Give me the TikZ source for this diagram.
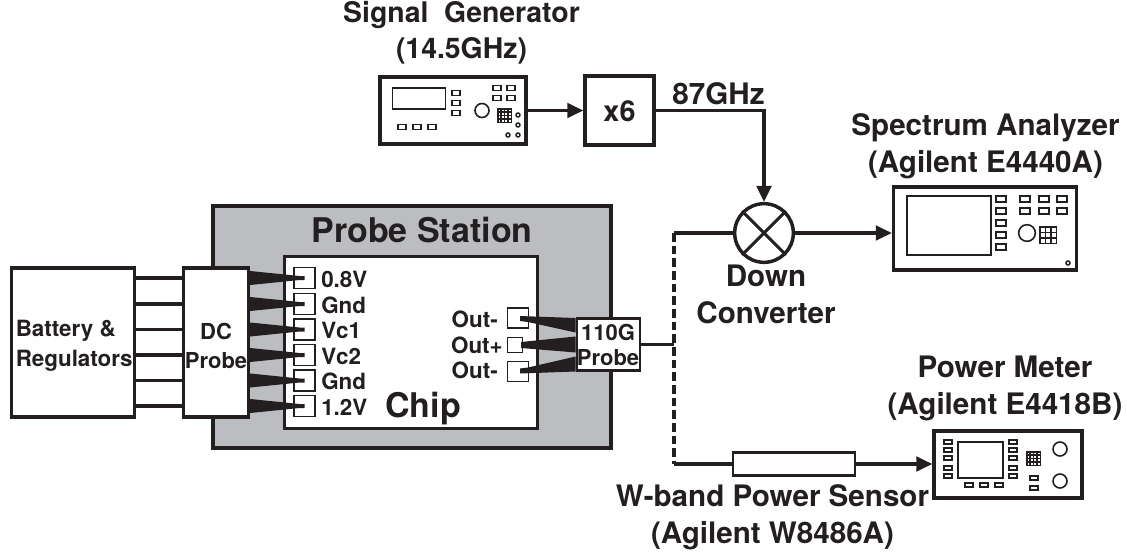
\documentclass[tikz,border=0pt]{standalone}
\usepackage{fontspec}
\setmainfont{TeX Gyre Heros}
\usetikzlibrary{arrows.meta,calc}
\newcommand{\fs}[1]{\fontsize{#1}{#1}\selectfont\bfseries}
\definecolor{ink}{HTML}{231F20}
\definecolor{stationgray}{HTML}{BBBDC0}
\tikzset{
  x=0.75pt,y=-0.75pt,
  box/.style={draw=ink,line width=2.6pt,fill=white,inner sep=0pt,align=center,text=ink},
  thinbox/.style={draw=ink,line width=1.1pt,fill=white,inner sep=0pt},
  wire/.style={draw=ink,line width=2.3pt},
  dashwire/.style={draw=ink,line width=2.3pt,dash pattern=on 6.5pt off 3pt},
  arrowwire/.style={wire,-{Triangle[length=12pt,width=11pt]}},
  lbl/.style={text=ink,inner sep=0pt,align=center},
  padlbl/.style={lbl,anchor=west,font=\fs{16.8}},
  outlbl/.style={lbl,anchor=east,font=\fs{16.8}},
  btn/.style={draw=ink,line width=1.3pt,fill=white,minimum width=6.2pt,minimum height=3.6pt,inner sep=0pt},
  knob/.style={draw=ink,line width=1.2pt,fill=white,circle,inner sep=0pt},
  dot/.style={draw=ink,line width=1.1pt,fill=white,circle,minimum size=3pt,inner sep=0pt},
  screen/.style={draw=ink,line width=1.3pt,fill=white,inner sep=0pt},
}
\newcommand{\keypad}[4]{% x0,y0,size,cells
  \fill[ink] (#1,#2) rectangle ++(#3,#3);
  \foreach \i in {0,...,#4}{\foreach \j in {0,...,#4}{
    \fill[white] ({#1+1.5+\i*(#3-1.5)/(#4+1)},{#2+1.5+\j*(#3-1.5)/(#4+1)}) rectangle ++({(#3-1.5)/(#4+1)-1.5},{(#3-1.5)/(#4+1)-1.5});}}
}
\begin{document}
\begin{tikzpicture}
\useasboundingbox (0,0) rectangle (1127,557);
% station
\node[box,fill=stationgray,minimum width=398*0.75pt,minimum height=242*0.75pt] (station) at (412,327) {};
\node[box,minimum width=253*0.75pt,minimum height=172*0.75pt] (chip) at (411,342.5) {};
\node[lbl,font=\fs{25.5}] (stationlbl) at (422,230) {Probe Station};
\node[lbl,font=\fs{25.5}] (chiplbl) at (423,409) {Chip};
% left pads
\node[thinbox,minimum width=16pt,minimum height=15.5pt] (p1) at (304.5,278) {};
\node[thinbox,minimum width=16pt,minimum height=15.5pt] (p2) at (304.5,304) {};
\node[thinbox,minimum width=16pt,minimum height=15.5pt] (p3) at (304.5,329.5) {};
\node[thinbox,minimum width=16pt,minimum height=15.5pt] (p4) at (304.5,355) {};
\node[thinbox,minimum width=16pt,minimum height=15.5pt] (p5) at (304.5,380.5) {};
\node[thinbox,minimum width=16pt,minimum height=15.5pt] (p6) at (304.5,406) {};
\node[padlbl] (l1) at (321,279) {0.8V};
\node[padlbl] (l2) at (321,305) {Gnd};
\node[padlbl] (l3) at (321,330) {Vc1};
\node[padlbl] (l4) at (321,356) {Vc2};
\node[padlbl] (l5) at (321,381) {Gnd};
\node[padlbl] (l6) at (321,407) {1.2V};
% right pads
\node[thinbox,minimum width=15.5pt,minimum height=15pt] (q1) at (518,318) {};
\node[thinbox,minimum width=11pt,minimum height=11pt] (q2) at (515,345) {};
\node[thinbox,minimum width=15.5pt,minimum height=15pt] (q3) at (518,371.5) {};
\node[outlbl] (o1) at (498,319) {Out-};
\node[outlbl] (o2) at (503,345) {Out+};
\node[outlbl] (o3) at (498,370) {Out-};
% battery & dc probe
\node[box,minimum width=123*0.75pt,minimum height=149*0.75pt] (bat) at (73,342.5) {};
\node[box,minimum width=65*0.75pt,minimum height=149*0.75pt] (dc) at (216,342.5) {};
\foreach \n in {1,...,6}{
  \draw[wire] (bat.east |- p\n) -- (dc.west |- p\n);
  \fill[ink] ($(dc.east |- p\n)+(0,-7)$) -- ($(p\n.center)+(-5,-2)$) -- ($(p\n.center)+(0,-2)$) -- ($(p\n.center)+(0,2)$) -- ($(p\n.center)+(-5,2)$) -- ($(dc.east |- p\n)+(0,7)$) -- cycle;
}
\node[lbl,font=\fs{16.8},align=left,anchor=west] (batl) at (15.5,346) {Battery \&\\[5.5pt]Regulators};
\node[lbl,font=\fs{16.5}] (dcl) at (216,346) {DC\\[5.5pt]Probe};
% 110G probe
\node[box,minimum width=63*0.75pt,minimum height=52*0.75pt,line width=2.2pt] (hp) at (608.5,344.5) {};
\node[lbl,font=\fs{16.5}] (hpl) at (608,345) {110G\\[2pt]Probe};
\fill[ink] ($(q1.center)+(2,-2)$) -- (hp.west |- q1) -- ($(hp.west)+(0,-12)$) -- ($(q1.center)+(10,4)$) -- ($(q1.center)+(2,3)$) -- cycle;
\fill[ink] ($(q2.center)+(6,-3)$) -- ($(hp.west)+(0,-8)$) -- ($(hp.west)+(0,8)$) -- ($(q2.center)+(6,3)$) -- cycle;
\fill[ink] ($(q3.center)+(2,2)$) -- (hp.west |- q3) -- ($(hp.west)+(0,12)$) -- ($(q3.center)+(10,-4)$) -- ($(q3.center)+(2,-3)$) -- cycle;
% mixer
\node[draw=ink,line width=2.6pt,circle,fill=white,minimum size=44pt,inner sep=0pt] (mix) at (764,233) {};
\draw[wire] (mix.north west) -- (mix.south east);
\draw[wire] (mix.north east) -- (mix.south west);
\node[lbl,font=\fs{22.2}] (mixl) at (766,294) {Down\\[5.5pt]Converter};
% signal generator
\node[box,minimum width=146*0.75pt,minimum height=67*0.75pt] (sg) at (453,110.5) {};
\node[screen,minimum width=53*0.75pt,minimum height=21*0.75pt] (sgs) at (419,98.5) {};
\foreach \xx/\yy in {456/93,456/103,456/113,497/88,511/88,497/98,511/98,402/127,417/127,432/127}
  \node[btn] at (\xx,\yy) {};
\node[knob,minimum size=10.5pt] (sgk) at (482,110.5) {};
\keypad{497}{108}{15}{3}
\foreach \xx/\yy in {518/115,518/125,518/135,508/135}
  \node[dot] at (\xx,\yy) {};
\node[lbl,font=\fs{21.3}] (sgl) at (461.5,33) {Signal\; Generator\\[5.5pt](14.5GHz)};
% x6
\node[box,minimum width=69*0.75pt,minimum height=69*0.75pt] (x6) at (619.5,110.5) {};
\node[lbl,font=\fs{21.6}] (x6l) at (619.5,111) {x6};
\draw[arrowwire] (sg.east) -- (x6.west);
\coordinate (bend) at (mix.north |- x6.east);
\draw[arrowwire] (x6.east) -- (bend) -- (mix.north);
\node[lbl,font=\fs{22.2}] (f87) at (718.5,94) {87GHz};
% spectrum analyzer
\node[box,minimum width=183*0.75pt,minimum height=83*0.75pt] (sa) at (985,228.5) {};
\node[screen,minimum width=84*0.75pt,minimum height=59*0.75pt] (sas) at (949,225.5) {};
\foreach \yy in {199,211,223,235,247} \node[btn,minimum width=8pt,minimum height=4.2pt] at (1001,\yy) {};
\foreach \xx in {1025,1044,1062}\foreach \yy in {199,211}
  \node[btn,minimum width=8pt,minimum height=4.2pt] at (\xx,\yy) {};
\node[knob,minimum size=12.5pt] (sak) at (1027,233) {};
\keypad{1039}{226}{18}{2}
\node[dot] (sad) at (1068,263) {};
\node[lbl,font=\fs{22.2}] (sal) at (985.5,146) {Spectrum Analyzer\\[5.5pt](Agilent E4440A)};
\draw[arrowwire] (mix.east) -- (sa.west |- mix.east);
% power meter
\node[box,minimum width=148*0.75pt,minimum height=67*0.75pt] (pm) at (1008,464.5) {};
\node[screen,minimum width=45*0.75pt,minimum height=36*0.75pt] (pms) at (980.5,460) {};
\foreach \xx in {948,1013}\foreach \yy in {442,450,458,468,476}
  \node[btn,minimum width=6pt,minimum height=3pt] at (\xx,\yy) {};
\foreach \xx in {969,984,999} \node[btn,minimum width=6pt,minimum height=3pt] at (\xx,485) {};
\foreach \yy in {478,488} \node[btn,minimum width=6pt,minimum height=3pt] at (1034,\yy) {};
\keypad{1026}{451}{15}{3}
\node[knob,minimum size=10.5pt] (pmk1) at (1060,449) {};
\node[knob,minimum size=10.5pt] (pmk2) at (1060,481) {};
\node[lbl,font=\fs{22.2}] (pml) at (1005,388) {Power Meter\\[5.5pt](Agilent E4418B)};
% power sensor
\node[draw=ink,line width=1.7pt,fill=white,minimum width=122*0.75pt,minimum height=23*0.75pt,inner sep=0pt] (ps) at (794,464) {};
\node[lbl,font=\fs{22.2}] (psl) at (772.5,517) {W-band Power Sensor\\[5.5pt](Agilent W8486A)};
\draw[arrowwire] (ps.east) -- (pm.west |- ps.east);
% dashed
\coordinate (jn) at (674,344.5);
\coordinate (jt) at (jn |- mix.west);
\coordinate (jb) at (jn |- ps.west);
\draw[wire] (hp.east) -- (jn);
\draw[wire] (mix.west) -- (jt);
\draw[dashwire] (jt) -- (jb);
\draw[wire] (jb) -- (ps.west);
\end{tikzpicture}
\end{document}
